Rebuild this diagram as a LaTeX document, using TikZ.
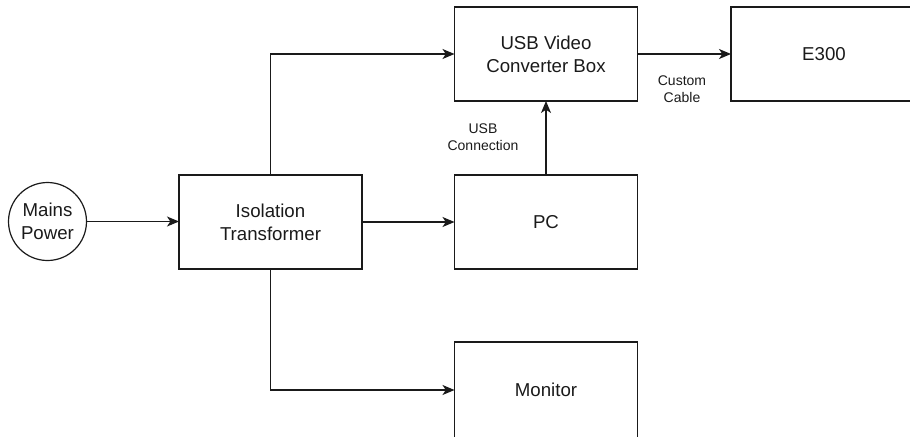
\documentclass[tikz,border=0pt]{standalone}
\usepackage{fontspec}
\setmainfont{Liberation Sans}
\usetikzlibrary{arrows.meta}
\definecolor{ink}{HTML}{1A1A1A}
\begin{document}
\begin{tikzpicture}[x=0.75pt,y=-0.75pt,
  box/.style={draw=ink, line width=0.9pt, minimum width=137.25pt, minimum height=70.5pt,
    inner sep=0pt, outer sep=0pt, align=center, text=ink,
    font=\fontsize{14}{17.2}\selectfont},
  circ/.style={draw=ink, circle, line width=0.9pt, minimum size=58.5pt, inner sep=0pt,
    outer sep=0pt, align=center, text=ink, font=\fontsize{14}{17.2}\selectfont},
  lbl/.style={align=center, text=ink, font=\fontsize{10.5}{12.8}\selectfont, inner sep=0pt},
  conn/.style={draw=ink, line width=0.9pt, -{Stealth[length=9pt,width=7.5pt,inset=2.5pt]}}]
\useasboundingbox (0,0) rectangle (910,436);
\clip (0,0) rectangle (910,436);
\node[circ] (mains) at (47.5,221.5) {Mains\\Power};
\node[box] (iso) at (270.5,222) {Isolation\\Transformer};
\node[box] (pc) at (546,222) {PC};
\node[box] (usb) at (546,54) {USB Video\\Converter Box};
\node[box, minimum width=139.5pt] (e300) at (824,54) {E300};
\node[box, minimum height=72pt] (mon) at (546,390) {Monitor};
\node[lbl] (lcable) at (682,89) {Custom\\Cable};
\node[lbl] (lusb) at (483,137) {USB\\Connection};
\draw[conn] (mains.east) -- (mains.east -| iso.west);
\draw[conn] (iso.east) -- (pc.west);
\draw[conn] (iso.north) |- (usb.west);
\draw[conn] (iso.south) |- (mon.west);
\draw[conn] (pc.north) -- (usb.south);
\draw[conn] (usb.east) -- (e300.west);
\end{tikzpicture}
\end{document}
